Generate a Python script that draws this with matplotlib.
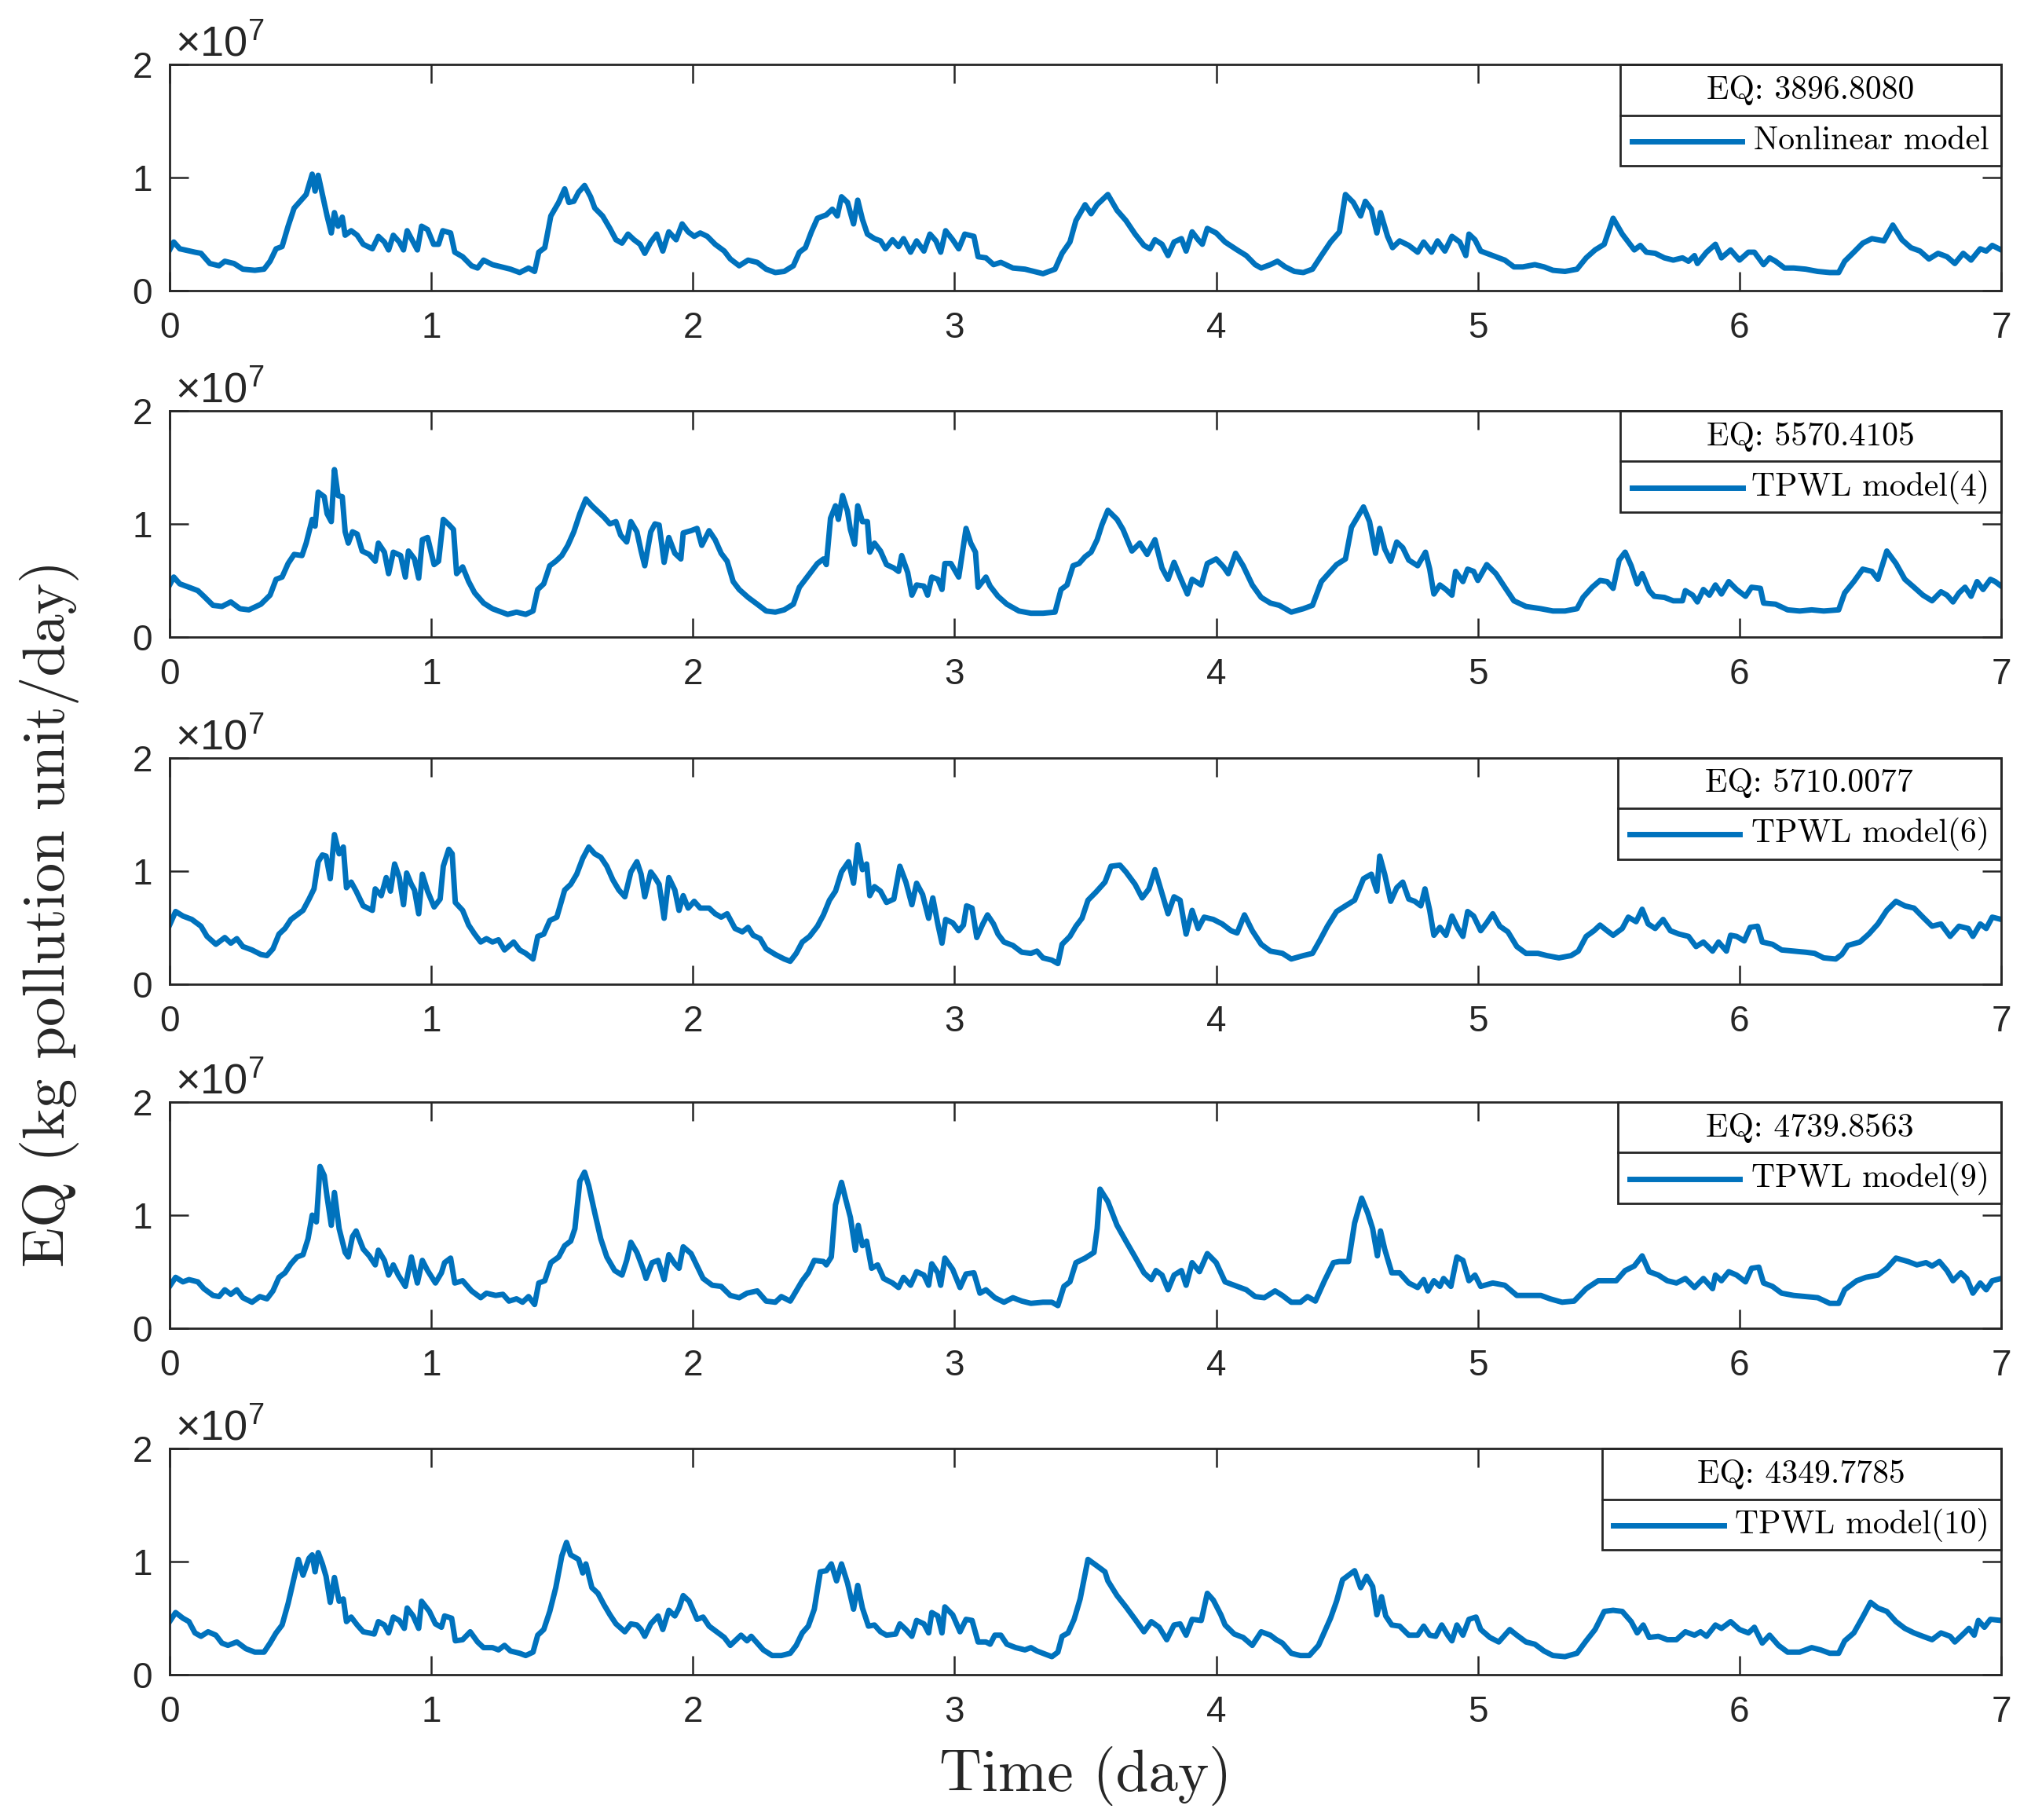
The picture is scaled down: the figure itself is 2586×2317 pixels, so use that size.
import numpy as np
import matplotlib
matplotlib.use("Agg")
import matplotlib.pyplot as plt
from matplotlib.patches import Rectangle
from matplotlib.lines import Line2D

# ---------------- data: (time [day], EQ [x1e7 kg pollution unit/day]) ----------------
nonlinear = [
    (0.000,0.36),(0.016,0.43),(0.039,0.37),(0.097,0.34),(0.120,0.33),(0.154,0.24),(0.189,0.22),(0.211,0.26),
    (0.246,0.24),(0.280,0.19),(0.326,0.18),(0.361,0.19),(0.384,0.26),(0.407,0.37),(0.430,0.39),(0.453,0.57),
    (0.476,0.73),(0.499,0.79),(0.522,0.85),(0.545,1.03),(0.556,0.88),(0.568,1.02),(0.584,0.85),(0.602,0.66),
    (0.618,0.51),(0.630,0.69),(0.644,0.57),(0.660,0.65),(0.671,0.49),(0.694,0.53),(0.717,0.49),(0.740,0.41),
    (0.775,0.37),(0.798,0.48),(0.821,0.43),(0.837,0.36),(0.855,0.49),(0.878,0.43),(0.894,0.36),(0.908,0.53),
    (0.924,0.46),(0.947,0.36),(0.963,0.57),(0.986,0.54),(1.009,0.41),(1.028,0.41),(1.044,0.53),(1.074,0.51),
    (1.090,0.34),(1.120,0.30),(1.154,0.22),(1.177,0.20),(1.200,0.27),(1.234,0.23),(1.269,0.21),(1.303,0.19),
    (1.338,0.16),(1.372,0.20),(1.395,0.17),(1.411,0.34),(1.434,0.38),(1.457,0.66),(1.487,0.78),(1.510,0.90),
    (1.526,0.78),(1.545,0.79),(1.563,0.87),(1.586,0.93),(1.609,0.83),(1.625,0.73),(1.655,0.66),(1.683,0.55),
    (1.706,0.45),(1.729,0.42),(1.752,0.50),(1.775,0.45),(1.798,0.41),(1.816,0.33),(1.839,0.43),(1.862,0.50),
    (1.885,0.35),(1.908,0.52),(1.936,0.45),(1.959,0.59),(1.982,0.52),(2.005,0.48),(2.028,0.51),(2.055,0.48),
    (2.085,0.41),(2.120,0.35),(2.143,0.28),(2.177,0.22),(2.211,0.27),(2.246,0.25),(2.280,0.19),(2.315,0.16),
    (2.349,0.17),(2.384,0.22),(2.407,0.34),(2.430,0.38),(2.453,0.52),(2.476,0.64),(2.510,0.67),(2.533,0.72),
    (2.552,0.66),(2.568,0.83),(2.591,0.78),(2.614,0.59),(2.630,0.80),(2.648,0.63),(2.667,0.50),(2.694,0.46),
    (2.717,0.44),(2.736,0.37),(2.763,0.45),(2.786,0.39),(2.805,0.46),(2.832,0.34),(2.855,0.44),(2.883,0.35),
    (2.906,0.50),(2.929,0.44),(2.947,0.34),(2.966,0.53),(2.993,0.45),(3.016,0.37),(3.039,0.50),(3.074,0.48),
    (3.090,0.30),(3.120,0.29),(3.149,0.23),(3.177,0.25),(3.223,0.20),(3.269,0.19),(3.303,0.17),(3.338,0.15),
    (3.384,0.19),(3.411,0.33),(3.441,0.43),(3.464,0.62),(3.499,0.76),(3.522,0.68),(3.545,0.76),(3.586,0.85),
    (3.621,0.71),(3.655,0.62),(3.690,0.50),(3.724,0.40),(3.747,0.37),(3.766,0.45),(3.793,0.41),(3.816,0.31),
    (3.839,0.43),(3.867,0.46),(3.885,0.35),(3.908,0.52),(3.931,0.45),(3.947,0.41),(3.966,0.55),(4.000,0.51),
    (4.034,0.43),(4.080,0.36),(4.115,0.31),(4.149,0.23),(4.172,0.20),(4.207,0.23),(4.234,0.26),(4.264,0.21),
    (4.299,0.17),(4.333,0.16),(4.368,0.19),(4.402,0.31),(4.437,0.43),(4.471,0.52),(4.494,0.85),(4.524,0.78),
    (4.552,0.66),(4.570,0.79),(4.593,0.72),(4.614,0.51),(4.628,0.69),(4.655,0.48),(4.674,0.38),(4.701,0.44),
    (4.736,0.40),(4.770,0.34),(4.793,0.43),(4.823,0.34),(4.846,0.44),(4.874,0.35),(4.901,0.48),(4.931,0.43),
    (4.954,0.31),(4.966,0.50),(4.989,0.45),(5.011,0.35),(5.057,0.31),(5.103,0.27),(5.138,0.21),(5.172,0.21),
    (5.218,0.23),(5.253,0.21),(5.287,0.18),(5.333,0.17),(5.379,0.19),(5.414,0.29),(5.448,0.36),(5.483,0.41),
    (5.517,0.64),(5.552,0.50),(5.575,0.43),(5.598,0.36),(5.621,0.40),(5.644,0.34),(5.678,0.33),(5.713,0.29),
    (5.747,0.27),(5.782,0.29),(5.805,0.26),(5.828,0.31),(5.839,0.24),(5.874,0.34),(5.908,0.41),(5.931,0.29),
    (5.966,0.36),(6.000,0.27),(6.034,0.34),(6.057,0.34),(6.092,0.23),(6.115,0.29),(6.138,0.26),(6.172,0.20),
    (6.207,0.20),(6.253,0.19),(6.299,0.17),(6.345,0.16),(6.379,0.16),(6.402,0.26),(6.437,0.34),(6.471,0.42),
    (6.506,0.46),(6.552,0.44),(6.586,0.58),(6.621,0.45),(6.655,0.38),(6.690,0.35),(6.724,0.28),(6.759,0.33),
    (6.793,0.30),(6.823,0.24),(6.855,0.33),(6.885,0.27),(6.920,0.37),(6.943,0.35),(6.966,0.40),(7.000,0.36),
]

tpwl4 = [
    (0.000,0.46),(0.016,0.53),(0.039,0.47),(0.074,0.44),(0.108,0.41),(0.131,0.36),(0.166,0.28),(0.200,0.27),
    (0.234,0.31),(0.269,0.25),(0.303,0.24),(0.349,0.29),(0.384,0.37),(0.407,0.51),(0.430,0.53),(0.453,0.65),
    (0.476,0.73),(0.506,0.72),(0.522,0.83),(0.545,1.04),(0.556,0.98),(0.568,1.28),(0.591,1.24),(0.602,1.09),
    (0.618,1.02),(0.630,1.48),(0.644,1.25),(0.660,1.24),(0.671,0.93),(0.683,0.83),(0.699,0.93),(0.717,0.91),
    (0.736,0.76),(0.763,0.73),(0.786,0.67),(0.798,0.83),(0.821,0.75),(0.837,0.56),(0.855,0.75),(0.883,0.72),
    (0.901,0.53),(0.913,0.76),(0.936,0.69),(0.952,0.52),(0.966,0.86),(0.986,0.88),(1.011,0.64),(1.028,0.67),
    (1.046,1.04),(1.069,0.99),(1.085,0.95),(1.097,0.56),(1.120,0.62),(1.143,0.49),(1.166,0.39),(1.200,0.30),
    (1.234,0.25),(1.269,0.22),(1.292,0.20),(1.326,0.22),(1.361,0.20),(1.389,0.23),(1.407,0.42),(1.430,0.47),
    (1.453,0.63),(1.476,0.67),(1.499,0.72),(1.522,0.81),(1.545,0.93),(1.568,1.09),(1.591,1.22),(1.614,1.16),
    (1.637,1.11),(1.660,1.06),(1.683,1.00),(1.706,1.02),(1.724,0.90),(1.747,0.84),(1.763,1.02),(1.786,0.93),
    (1.802,0.76),(1.816,0.63),(1.839,0.93),(1.855,1.00),(1.871,0.99),(1.890,0.66),(1.908,0.88),(1.931,0.74),
    (1.954,0.69),(1.963,0.92),(1.993,0.94),(2.016,0.96),(2.034,0.81),(2.062,0.94),(2.085,0.86),(2.108,0.74),
    (2.131,0.67),(2.154,0.49),(2.177,0.42),(2.211,0.35),(2.246,0.29),(2.280,0.23),(2.315,0.22),(2.349,0.24),
    (2.384,0.29),(2.407,0.44),(2.430,0.51),(2.453,0.58),(2.476,0.65),(2.499,0.69),(2.510,0.64),(2.526,1.05),
    (2.545,1.16),(2.556,1.04),(2.572,1.25),(2.591,1.11),(2.602,0.95),(2.618,0.82),(2.630,1.16),(2.648,1.02),
    (2.667,1.02),(2.676,0.75),(2.694,0.83),(2.717,0.76),(2.740,0.64),(2.768,0.61),(2.786,0.58),(2.798,0.72),
    (2.821,0.57),(2.837,0.37),(2.855,0.46),(2.883,0.45),(2.897,0.37),(2.913,0.53),(2.936,0.51),(2.952,0.42),
    (2.963,0.65),(2.986,0.65),(3.016,0.53),(3.044,0.96),(3.062,0.83),(3.080,0.75),(3.090,0.44),(3.120,0.53),
    (3.136,0.45),(3.166,0.36),(3.200,0.29),(3.246,0.23),(3.292,0.21),(3.338,0.21),(3.384,0.22),(3.407,0.42),
    (3.430,0.46),(3.453,0.63),(3.476,0.65),(3.499,0.71),(3.522,0.75),(3.545,0.86),(3.563,0.99),(3.586,1.12),
    (3.621,1.04),(3.644,0.95),(3.678,0.76),(3.708,0.83),(3.736,0.73),(3.766,0.86),(3.793,0.61),(3.816,0.51),
    (3.839,0.66),(3.862,0.53),(3.890,0.38),(3.908,0.51),(3.943,0.46),(3.966,0.65),(4.000,0.69),(4.028,0.62),
    (4.046,0.56),(4.074,0.74),(4.103,0.63),(4.138,0.46),(4.172,0.35),(4.207,0.30),(4.241,0.28),(4.287,0.22),
    (4.333,0.25),(4.368,0.28),(4.402,0.49),(4.437,0.58),(4.460,0.64),(4.494,0.69),(4.517,0.97),(4.540,1.06),
    (4.563,1.15),(4.586,1.02),(4.609,0.74),(4.625,0.96),(4.644,0.78),(4.667,0.67),(4.690,0.84),(4.713,0.79),
    (4.736,0.68),(4.770,0.63),(4.800,0.75),(4.816,0.60),(4.832,0.38),(4.855,0.46),(4.878,0.42),(4.901,0.37),
    (4.915,0.58),(4.943,0.49),(4.961,0.60),(4.984,0.58),(5.000,0.50),(5.034,0.64),(5.069,0.56),(5.103,0.44),
    (5.138,0.32),(5.184,0.27),(5.241,0.25),(5.287,0.23),(5.333,0.23),(5.379,0.25),(5.402,0.35),(5.437,0.44),
    (5.467,0.50),(5.494,0.49),(5.517,0.43),(5.540,0.68),(5.563,0.75),(5.586,0.63),(5.609,0.47),(5.628,0.56),
    (5.655,0.41),(5.674,0.36),(5.713,0.35),(5.747,0.32),(5.782,0.32),(5.793,0.41),(5.821,0.37),(5.839,0.31),
    (5.862,0.42),(5.885,0.37),(5.908,0.46),(5.931,0.38),(5.959,0.49),(5.989,0.42),(6.023,0.36),(6.046,0.44),
    (6.080,0.43),(6.092,0.30),(6.138,0.29),(6.184,0.24),(6.230,0.23),(6.276,0.24),(6.322,0.23),(6.379,0.24),
    (6.402,0.39),(6.437,0.49),(6.471,0.60),(6.506,0.58),(6.529,0.51),(6.563,0.76),(6.598,0.65),(6.632,0.51),
    (6.667,0.44),(6.701,0.37),(6.736,0.32),(6.770,0.40),(6.793,0.37),(6.816,0.31),(6.839,0.39),(6.862,0.44),
    (6.885,0.36),(6.908,0.49),(6.931,0.42),(6.959,0.51),(6.977,0.49),(7.000,0.45),
]

tpwl6 = [
    (0.000,0.52),(0.023,0.64),(0.051,0.60),(0.085,0.57),(0.120,0.51),(0.143,0.42),(0.177,0.35),(0.211,0.41),
    (0.234,0.36),(0.257,0.40),(0.280,0.33),(0.315,0.30),(0.349,0.26),(0.372,0.25),(0.395,0.31),(0.418,0.44),
    (0.441,0.49),(0.464,0.57),(0.487,0.61),(0.510,0.65),(0.533,0.75),(0.552,0.84),(0.568,1.08),(0.584,1.14),
    (0.598,1.13),(0.614,0.93),(0.630,1.32),(0.648,1.15),(0.664,1.21),(0.676,0.85),(0.694,0.90),(0.713,0.82),
    (0.740,0.69),(0.775,0.65),(0.786,0.84),(0.809,0.78),(0.828,0.94),(0.844,0.82),(0.860,1.06),(0.878,0.94),
    (0.894,0.70),(0.906,0.98),(0.924,0.88),(0.936,0.83),(0.952,0.62),(0.966,0.97),(0.986,0.82),(1.011,0.68),
    (1.034,0.75),(1.046,1.04),(1.067,1.19),(1.080,1.15),(1.092,0.72),(1.120,0.65),(1.143,0.52),(1.166,0.44),
    (1.189,0.37),(1.211,0.40),(1.234,0.37),(1.257,0.39),(1.280,0.30),(1.315,0.37),(1.338,0.30),(1.361,0.27),
    (1.389,0.22),(1.407,0.42),(1.430,0.44),(1.453,0.56),(1.480,0.59),(1.510,0.83),(1.533,0.88),(1.556,0.97),
    (1.579,1.11),(1.602,1.21),(1.625,1.15),(1.648,1.12),(1.671,1.04),(1.694,0.92),(1.717,0.83),(1.740,0.77),
    (1.763,0.99),(1.786,1.08),(1.802,0.97),(1.816,0.77),(1.839,0.99),(1.855,0.94),(1.871,0.88),(1.890,0.58),
    (1.908,0.94),(1.931,0.83),(1.947,0.65),(1.963,0.78),(1.982,0.67),(2.005,0.73),(2.028,0.67),(2.062,0.67),
    (2.085,0.62),(2.108,0.59),(2.131,0.62),(2.161,0.49),(2.189,0.46),(2.211,0.50),(2.230,0.43),(2.257,0.40),
    (2.280,0.31),(2.315,0.26),(2.349,0.22),(2.372,0.20),(2.395,0.27),(2.418,0.37),(2.446,0.42),(2.476,0.51),
    (2.499,0.61),(2.522,0.74),(2.545,0.82),(2.568,0.99),(2.595,1.08),(2.614,0.89),(2.630,1.23),(2.648,1.01),
    (2.664,1.06),(2.676,0.78),(2.694,0.86),(2.717,0.82),(2.740,0.72),(2.768,0.75),(2.791,1.04),(2.814,0.90),
    (2.837,0.70),(2.855,0.89),(2.878,0.79),(2.901,0.58),(2.917,0.76),(2.936,0.53),(2.952,0.36),(2.966,0.57),
    (2.993,0.54),(3.016,0.47),(3.034,0.52),(3.046,0.69),(3.067,0.67),(3.085,0.41),(3.108,0.53),(3.126,0.61),
    (3.149,0.53),(3.166,0.44),(3.189,0.37),(3.223,0.34),(3.257,0.28),(3.292,0.27),(3.315,0.29),(3.338,0.23),
    (3.372,0.21),(3.395,0.18),(3.411,0.35),(3.441,0.42),(3.464,0.51),(3.487,0.58),(3.510,0.74),(3.540,0.81),
    (3.575,0.90),(3.598,1.04),(3.632,1.05),(3.655,0.99),(3.690,0.88),(3.717,0.76),(3.743,0.84),(3.766,1.01),
    (3.789,0.83),(3.816,0.62),(3.839,0.77),(3.862,0.74),(3.885,0.44),(3.908,0.65),(3.931,0.49),(3.954,0.59),
    (3.989,0.57),(4.023,0.53),(4.057,0.47),(4.080,0.45),(4.108,0.61),(4.138,0.47),(4.172,0.35),(4.207,0.29),
    (4.253,0.27),(4.287,0.22),(4.333,0.25),(4.368,0.27),(4.395,0.38),(4.425,0.51),(4.460,0.64),(4.494,0.69),
    (4.529,0.74),(4.563,0.93),(4.593,0.97),(4.614,0.82),(4.625,1.13),(4.644,0.97),(4.667,0.73),(4.690,0.85),
    (4.713,0.90),(4.736,0.75),(4.759,0.73),(4.782,0.69),(4.798,0.84),(4.816,0.65),(4.832,0.43),(4.855,0.50),
    (4.878,0.43),(4.901,0.60),(4.924,0.49),(4.943,0.42),(4.961,0.64),(4.984,0.60),(5.011,0.47),(5.034,0.54),
    (5.057,0.62),(5.084,0.51),(5.115,0.46),(5.149,0.33),(5.184,0.27),(5.230,0.27),(5.264,0.25),(5.310,0.23),
    (5.356,0.25),(5.384,0.29),(5.414,0.42),(5.444,0.47),(5.467,0.52),(5.494,0.47),(5.517,0.43),(5.552,0.49),
    (5.575,0.59),(5.605,0.55),(5.628,0.66),(5.651,0.53),(5.678,0.49),(5.708,0.57),(5.736,0.47),(5.770,0.44),
    (5.805,0.42),(5.834,0.33),(5.862,0.37),(5.897,0.29),(5.920,0.37),(5.950,0.29),(5.966,0.43),(5.989,0.42),
    (6.018,0.38),(6.041,0.50),(6.069,0.51),(6.087,0.37),(6.126,0.35),(6.161,0.30),(6.207,0.29),(6.253,0.28),
    (6.287,0.27),(6.322,0.23),(6.368,0.22),(6.391,0.26),(6.414,0.34),(6.460,0.37),(6.494,0.44),(6.529,0.53),
    (6.563,0.65),(6.598,0.73),(6.632,0.69),(6.667,0.67),(6.701,0.59),(6.736,0.51),(6.770,0.53),(6.805,0.42),
    (6.839,0.51),(6.874,0.49),(6.892,0.42),(6.920,0.53),(6.943,0.49),(6.966,0.59),(7.000,0.57),
]

tpwl9 = [
    (0.000,0.37),(0.023,0.45),(0.051,0.41),(0.074,0.43),(0.108,0.41),(0.131,0.35),(0.166,0.29),(0.189,0.28),
    (0.211,0.34),(0.234,0.30),(0.257,0.34),(0.280,0.27),(0.315,0.23),(0.345,0.28),(0.372,0.26),(0.395,0.33),
    (0.418,0.45),(0.441,0.49),(0.464,0.57),(0.487,0.63),(0.510,0.65),(0.529,0.79),(0.545,1.00),(0.561,0.94),
    (0.575,1.43),(0.591,1.35),(0.602,1.16),(0.618,0.91),(0.630,1.20),(0.648,0.88),(0.671,0.67),(0.683,0.63),
    (0.699,0.81),(0.713,0.86),(0.740,0.70),(0.763,0.64),(0.786,0.56),(0.798,0.69),(0.821,0.60),(0.837,0.47),
    (0.855,0.56),(0.874,0.47),(0.901,0.37),(0.924,0.63),(0.947,0.40),(0.966,0.60),(0.986,0.51),(1.016,0.40),
    (1.039,0.49),(1.051,0.58),(1.074,0.62),(1.090,0.40),(1.120,0.42),(1.154,0.33),(1.189,0.27),(1.211,0.31),
    (1.246,0.29),(1.274,0.30),(1.297,0.24),(1.326,0.26),(1.349,0.23),(1.372,0.28),(1.395,0.21),(1.411,0.40),
    (1.434,0.42),(1.457,0.58),(1.487,0.63),(1.510,0.73),(1.533,0.77),(1.549,0.88),(1.568,1.30),(1.586,1.38),
    (1.602,1.26),(1.625,1.02),(1.648,0.79),(1.671,0.63),(1.701,0.51),(1.729,0.47),(1.747,0.60),(1.763,0.76),
    (1.786,0.67),(1.809,0.53),(1.821,0.44),(1.844,0.58),(1.867,0.60),(1.890,0.43),(1.908,0.65),(1.931,0.57),
    (1.947,0.53),(1.963,0.72),(1.993,0.66),(2.016,0.55),(2.039,0.44),(2.074,0.38),(2.108,0.37),(2.143,0.29),
    (2.177,0.27),(2.207,0.31),(2.246,0.33),(2.280,0.24),(2.315,0.23),(2.338,0.28),(2.372,0.24),(2.395,0.33),
    (2.418,0.42),(2.441,0.49),(2.464,0.60),(2.499,0.59),(2.510,0.56),(2.529,0.63),(2.545,1.09),(2.568,1.29),
    (2.584,1.14),(2.602,0.98),(2.621,0.69),(2.632,0.91),(2.648,0.73),(2.664,0.77),(2.683,0.53),(2.706,0.56),
    (2.729,0.44),(2.763,0.40),(2.786,0.36),(2.805,0.45),(2.832,0.38),(2.855,0.50),(2.883,0.47),(2.901,0.38),
    (2.913,0.57),(2.936,0.49),(2.947,0.38),(2.963,0.62),(2.993,0.52),(3.021,0.36),(3.044,0.48),(3.074,0.49),
    (3.097,0.31),(3.120,0.34),(3.154,0.27),(3.189,0.23),(3.223,0.27),(3.257,0.24),(3.292,0.22),(3.338,0.23),
    (3.372,0.23),(3.395,0.20),(3.418,0.37),(3.441,0.41),(3.464,0.58),(3.499,0.62),(3.533,0.67),(3.545,0.88),
    (3.556,1.23),(3.586,1.12),(3.621,0.91),(3.655,0.77),(3.690,0.63),(3.724,0.49),(3.752,0.43),(3.770,0.51),
    (3.793,0.47),(3.816,0.34),(3.839,0.47),(3.867,0.51),(3.885,0.38),(3.908,0.58),(3.936,0.50),(3.966,0.66),
    (4.000,0.58),(4.034,0.41),(4.080,0.37),(4.115,0.34),(4.149,0.28),(4.184,0.27),(4.225,0.33),(4.253,0.29),
    (4.287,0.23),(4.322,0.23),(4.349,0.28),(4.379,0.24),(4.414,0.42),(4.448,0.58),(4.471,0.59),(4.506,0.59),
    (4.529,0.93),(4.556,1.15),(4.579,1.02),(4.598,0.88),(4.616,0.64),(4.628,0.86),(4.644,0.70),(4.671,0.49),
    (4.701,0.49),(4.736,0.40),(4.770,0.36),(4.793,0.43),(4.809,0.33),(4.832,0.42),(4.855,0.37),(4.869,0.44),
    (4.897,0.37),(4.920,0.63),(4.943,0.60),(4.966,0.42),(4.989,0.47),(5.011,0.37),(5.057,0.40),(5.103,0.38),
    (5.149,0.29),(5.195,0.29),(5.241,0.29),(5.276,0.26),(5.322,0.23),(5.368,0.24),(5.414,0.35),(5.460,0.42),
    (5.494,0.42),(5.529,0.42),(5.563,0.51),(5.598,0.55),(5.628,0.64),(5.655,0.50),(5.690,0.47),(5.724,0.42),
    (5.759,0.40),(5.793,0.44),(5.828,0.36),(5.862,0.44),(5.897,0.35),(5.908,0.47),(5.931,0.42),(5.959,0.50),
    (5.989,0.47),(6.023,0.41),(6.046,0.53),(6.074,0.54),(6.092,0.40),(6.126,0.37),(6.161,0.31),(6.207,0.29),
    (6.253,0.28),(6.299,0.27),(6.345,0.22),(6.379,0.22),(6.402,0.34),(6.448,0.42),(6.483,0.45),(6.529,0.47),
    (6.563,0.53),(6.598,0.62),(6.644,0.59),(6.678,0.56),(6.713,0.58),(6.736,0.55),(6.764,0.59),(6.793,0.51),
    (6.816,0.42),(6.846,0.49),(6.869,0.44),(6.892,0.31),(6.920,0.40),(6.943,0.34),(6.966,0.42),(7.000,0.44),
]

tpwl10 = [
    (0.000,0.47),(0.023,0.55),(0.051,0.50),(0.074,0.47),(0.097,0.37),(0.120,0.34),(0.147,0.38),(0.177,0.35),
    (0.200,0.28),(0.223,0.26),(0.257,0.29),(0.292,0.23),(0.326,0.20),(0.361,0.20),(0.384,0.28),(0.407,0.37),
    (0.430,0.44),(0.453,0.63),(0.476,0.86),(0.492,1.02),(0.510,0.88),(0.533,1.03),(0.545,1.06),(0.556,0.91),
    (0.568,1.08),(0.584,0.98),(0.598,0.87),(0.614,0.64),(0.630,0.86),(0.648,0.65),(0.664,0.67),(0.676,0.47),
    (0.694,0.51),(0.717,0.44),(0.740,0.38),(0.763,0.37),(0.782,0.36),(0.798,0.47),(0.821,0.44),(0.837,0.37),
    (0.855,0.51),(0.878,0.48),(0.897,0.41),(0.908,0.59),(0.931,0.52),(0.952,0.41),(0.963,0.65),(0.993,0.56),
    (1.016,0.45),(1.039,0.42),(1.051,0.52),(1.078,0.50),(1.092,0.30),(1.120,0.31),(1.149,0.38),(1.177,0.29),
    (1.200,0.24),(1.234,0.24),(1.257,0.22),(1.280,0.26),(1.303,0.21),(1.338,0.19),(1.361,0.17),(1.389,0.20),
    (1.407,0.35),(1.430,0.40),(1.453,0.56),(1.476,0.77),(1.499,1.05),(1.517,1.17),(1.533,1.06),(1.563,1.02),
    (1.579,0.90),(1.591,0.98),(1.614,0.77),(1.637,0.72),(1.660,0.62),(1.683,0.53),(1.706,0.45),(1.740,0.38),
    (1.763,0.45),(1.786,0.44),(1.802,0.40),(1.816,0.34),(1.839,0.45),(1.867,0.52),(1.885,0.40),(1.908,0.57),
    (1.931,0.52),(1.947,0.59),(1.963,0.70),(1.986,0.65),(2.005,0.55),(2.016,0.49),(2.039,0.51),(2.062,0.43),
    (2.097,0.37),(2.120,0.33),(2.143,0.26),(2.184,0.35),(2.207,0.30),(2.223,0.34),(2.246,0.28),(2.269,0.22),
    (2.303,0.17),(2.338,0.17),(2.372,0.19),(2.395,0.26),(2.418,0.37),(2.441,0.43),(2.464,0.58),(2.487,0.91),
    (2.510,0.92),(2.529,0.98),(2.549,0.83),(2.568,0.98),(2.591,0.81),(2.614,0.58),(2.630,0.79),(2.648,0.59),
    (2.671,0.43),(2.694,0.44),(2.717,0.38),(2.740,0.35),(2.775,0.36),(2.791,0.45),(2.814,0.40),(2.837,0.34),
    (2.855,0.48),(2.883,0.45),(2.901,0.37),(2.913,0.55),(2.936,0.52),(2.952,0.37),(2.963,0.60),(2.993,0.53),
    (3.021,0.38),(3.044,0.49),(3.067,0.48),(3.090,0.29),(3.120,0.29),(3.136,0.27),(3.154,0.35),(3.177,0.35),
    (3.200,0.27),(3.234,0.24),(3.269,0.22),(3.292,0.24),(3.315,0.21),(3.338,0.19),(3.372,0.16),(3.395,0.20),
    (3.411,0.34),(3.434,0.37),(3.457,0.49),(3.480,0.67),(3.510,1.02),(3.540,0.97),(3.575,0.91),(3.586,0.83),
    (3.621,0.70),(3.655,0.60),(3.690,0.49),(3.724,0.38),(3.752,0.47),(3.782,0.42),(3.811,0.31),(3.839,0.44),
    (3.862,0.45),(3.885,0.35),(3.908,0.49),(3.943,0.48),(3.966,0.72),(3.989,0.66),(4.018,0.53),(4.034,0.44),
    (4.069,0.36),(4.103,0.33),(4.138,0.26),(4.172,0.38),(4.207,0.35),(4.230,0.31),(4.253,0.28),(4.287,0.19),
    (4.322,0.17),(4.356,0.17),(4.391,0.26),(4.414,0.38),(4.437,0.50),(4.460,0.65),(4.483,0.84),(4.506,0.88),
    (4.529,0.92),(4.552,0.77),(4.575,0.87),(4.598,0.78),(4.614,0.53),(4.632,0.69),(4.648,0.52),(4.671,0.44),
    (4.701,0.43),(4.736,0.35),(4.770,0.35),(4.793,0.43),(4.816,0.35),(4.839,0.34),(4.862,0.44),(4.885,0.35),
    (4.901,0.30),(4.920,0.44),(4.943,0.35),(4.966,0.49),(4.993,0.51),(5.011,0.40),(5.046,0.33),(5.080,0.29),
    (5.122,0.40),(5.149,0.35),(5.184,0.29),(5.218,0.27),(5.253,0.21),(5.287,0.17),(5.333,0.16),(5.379,0.19),
    (5.414,0.30),(5.448,0.40),(5.483,0.56),(5.517,0.57),(5.552,0.56),(5.586,0.47),(5.609,0.37),(5.632,0.44),
    (5.655,0.33),(5.690,0.34),(5.724,0.31),(5.759,0.31),(5.793,0.38),(5.828,0.35),(5.851,0.38),(5.874,0.34),
    (5.908,0.44),(5.931,0.41),(5.966,0.47),(6.000,0.40),(6.034,0.37),(6.057,0.42),(6.087,0.28),(6.115,0.35),
    (6.149,0.26),(6.184,0.20),(6.230,0.20),(6.276,0.24),(6.310,0.22),(6.345,0.19),(6.379,0.19),(6.402,0.30),
    (6.437,0.37),(6.471,0.51),(6.501,0.64),(6.529,0.59),(6.563,0.56),(6.598,0.47),(6.632,0.41),(6.667,0.37),
    (6.701,0.34),(6.736,0.31),(6.770,0.37),(6.805,0.34),(6.823,0.29),(6.855,0.36),(6.877,0.41),(6.897,0.35),
    (6.913,0.48),(6.936,0.42),(6.959,0.49),(7.000,0.48),
]

series = [nonlinear, tpwl4, tpwl6, tpwl9, tpwl10]
labels = ["Nonlinear model", "TPWL model(4)", "TPWL model(6)", "TPWL model(9)", "TPWL model(10)"]
eq_values = ["3896.8080", "5570.4105", "5710.0077", "4739.8563", "4349.7785"]
xticks = [0, 1, 2, 3, 4, 5, 6, 7]
yticks = [0, 1, 2]
scale = 1e7

# ---------------- style ----------------
plt.rcParams["mathtext.fontset"] = "custom"
plt.rcParams["mathtext.rm"] = "Liberation Sans"
plt.rcParams["mathtext.it"] = "Liberation Sans:italic"
plt.rcParams["mathtext.bf"] = "Liberation Sans:bold"

LINE = "#0072BD"
AXC = "#262626"
SERIF = "cmr10"
SANS = "Liberation Sans"
LW = 2.5

fig = plt.figure(figsize=(12.93, 11.585), dpi=200)
fig.patch.set_facecolor("white")

ax_left, ax_width, ax_height = 0.0835, 0.9018, 0.1243
bottoms = [0.8403, 0.6500, 0.4594, 0.2702, 0.0798]
box_left = [0.792, 0.792, 0.7906, 0.7906, 0.782]
line_span = [(0.7985, 0.8585), (0.7985, 0.8591), (0.797, 0.857), (0.797, 0.857), (0.788, 0.8486)]
sep_y, box_bottom = 0.776, 0.552

for i, data in enumerate(series):
    ax = fig.add_axes([ax_left, bottoms[i], ax_width, ax_height])
    t = np.array([p[0] for p in data])
    v = np.array([p[1] for p in data]) * scale
    ax.plot(t, v, color=LINE, lw=LW, solid_joinstyle="round", zorder=3)

    ax.set_xlim(0, 7)
    ax.set_ylim(0, 2 * scale)
    ax.set_xticks(xticks)
    ax.set_xticklabels([str(x) for x in xticks], fontfamily=SANS)
    ax.set_yticks([y * scale for y in yticks])
    ax.set_yticklabels([str(y) for y in yticks], fontfamily=SANS)
    ax.tick_params(axis="both", direction="in", length=8.5, width=0.9, colors=AXC,
                   labelsize=16.5, top=True, right=True)
    ax.tick_params(axis="x", pad=9.5)
    ax.tick_params(axis="y", pad=8)
    for s in ax.spines.values():
        s.set_linewidth(1.0)
        s.set_color(AXC)
        s.set_zorder(8)

    # exponent label
    ax.text(0.003, 1.036, r"$\times10^{7}$", transform=ax.transAxes, fontsize=19.5,
            color=AXC, ha="left", va="baseline")

    # legend with title box
    bl = box_left[i]
    ax.add_patch(Rectangle((bl, box_bottom), 1 - bl, 1 - box_bottom, transform=ax.transAxes,
                           facecolor="white", edgecolor=AXC, lw=1.0, zorder=6, clip_on=False))
    ax.add_line(Line2D([bl, 1], [sep_y, sep_y], transform=ax.transAxes, color=AXC, lw=1.0,
                       zorder=7, clip_on=False))
    ax.text((bl + 1) / 2, 0.886, "EQ: " + eq_values[i], transform=ax.transAxes, fontfamily=SERIF,
            fontsize=15, ha="center", va="center", color="black", zorder=7)
    l0, l1 = line_span[i]
    ax.add_line(Line2D([l0, l1], [0.660, 0.660], transform=ax.transAxes, color=LINE, lw=LW,
                       zorder=7, clip_on=False))
    ax.text(0.9935, 0.663, labels[i], transform=ax.transAxes, fontfamily=SERIF, fontsize=15,
            ha="right", va="center", color="black", zorder=7)

fig.text(0.5344, 0.024, "Time (day)", fontfamily=SERIF, fontsize=27, ha="center", va="center",
         color=AXC)
fig.text(0.0244, 0.498, "EQ (kg pollution unit/day)", fontfamily=SERIF, fontsize=27,
         rotation=90, ha="center", va="center", color=AXC)

fig.savefig("out.png", dpi=200, facecolor="white")
